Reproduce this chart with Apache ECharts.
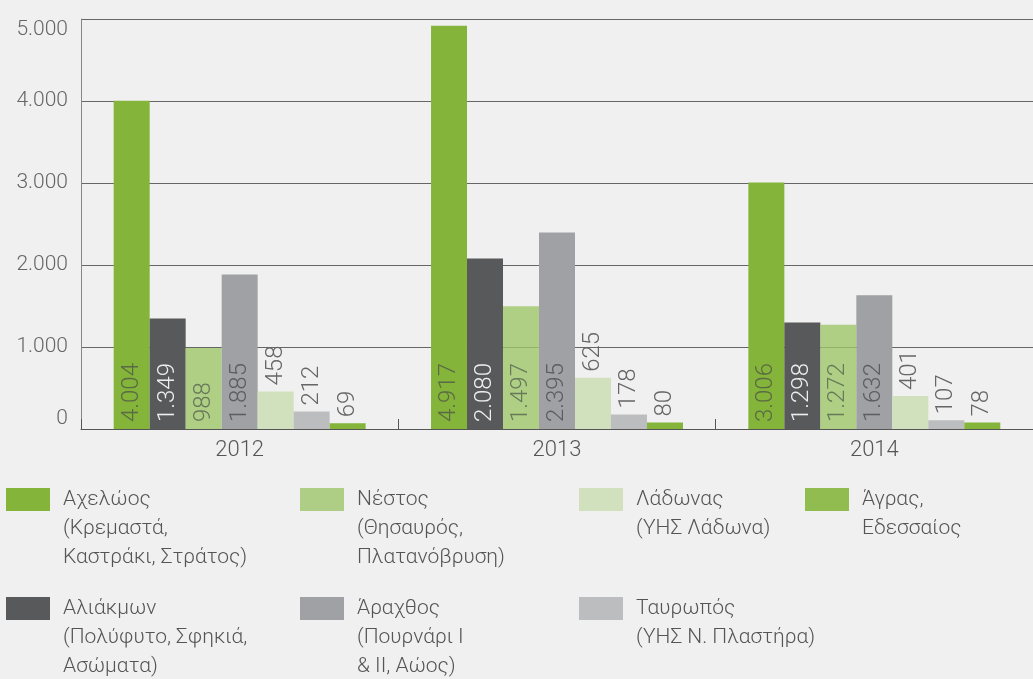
<!DOCTYPE html>
<html><head><meta charset="utf-8">
<script src="https://cdn.jsdelivr.net/npm/echarts@6/dist/echarts.min.js"></script>
<style>html,body{margin:0;padding:0;background:#f0f0f0}#c{width:1033px;height:679px}</style>
</head><body><div id="c"></div>
<script>
const categories = ['2012', '2013', '2014'];
const axelos = [4004, 4917, 3006];
const aliakmon = [1349, 2080, 1298];
const nestos = [988, 1497, 1272];
const arachthos = [1885, 2395, 1632];
const ladonas = [458, 625, 401];
const tavropos = [212, 178, 107];
const agras = [69, 80, 78];
const yMin = 0, yMax = 5000, yStep = 1000;

const seriesNames = ['Αχελώος', 'Αλιάκμων', 'Νέστος', 'Άραχθος', 'Λάδωνας', 'Ταυρωπός', 'Άγρας'];
const legendTexts = [
  'Αχελώος\n(Κρεμαστά,\nΚαστράκι, Στράτος)',
  'Αλιάκμων\n(Πολύφυτο, Σφηκιά,\nΑσώματα)',
  'Νέστος\n(Θησαυρός,\nΠλατανόβρυση)',
  'Άραχθος\n(Πουρνάρι Ι\n& ΙΙ, Αώος)',
  'Λάδωνας\n(ΥΗΣ Λάδωνα)',
  'Ταυρωπός\n(ΥΗΣ Ν. Πλαστήρα)',
  'Άγρας,\nΕδεσσαίος'
];
const seriesData = [axelos, aliakmon, nestos, arachthos, ladonas, tavropos, agras];
const colors = ['#84b53a', '#58595b', '#9dc769', '#a0a1a4', '#d2e1bd', '#bcbdbf', '#84b53a'];
const opac = [1, 1, 0.8, 1, 1, 1, 1];
const legendSwatch = ['#84b53a', '#58595b', '#aece85', '#a0a1a4', '#d2e1bd', '#bcbdbf', '#90bc50'];
const labelColors = ['#5a6a44', '#eeeeee', '#68785a', '#5c5d60', '#666', '#666', '#666'];
const labelInside = [true, true, true, true, false, false, false];
const legendCols = [6, 6, 300, 300, 579, 579, 805];
const legendRows = [499.5, 608.5, 499.5, 608.5, 499.5, 608.5, 499.5];

const FONT = 'Roboto';
const LH = 29;
const fmt = v => String(v).replace(/\B(?=(\d{3})+(?!\d))/g, '.');

const chart = echarts.init(document.getElementById('c'));

const series = seriesNames.map((name, i) => ({
  name: name,
  type: 'bar',
  data: seriesData[i],
  barGap: 0,
  barCategoryGap: '20.6%',
  itemStyle: { color: colors[i], opacity: opac[i] },
  label: {
    show: true,
    position: labelInside[i] ? 'insideBottom' : 'top',
    rotate: 90,
    align: 'left',
    verticalAlign: 'middle',
    distance: labelInside[i] ? 7 : 6,
    fontSize: 24,
    fontFamily: FONT,
    fontWeight: 300,
    color: labelColors[i],
    opacity: 1,
    formatter: p => fmt(p.value)
  }
}));

const legends = seriesNames.map((name, i) => {
  const n = legendTexts[i].split('\n').length;
  const lead = '\n'.repeat(n - 1);
  const H = (2 * n - 1) * LH;
  return {
    show: true,
    left: legendCols[i],
    top: legendRows[i] - H / 2,
    padding: 0,
    orient: 'vertical',
    selectedMode: false,
    itemWidth: 44,
    itemHeight: 23,
    icon: 'rect',
    data: [{ name: name, itemStyle: { color: legendSwatch[i], opacity: 1 } }],
    formatter: () => lead + legendTexts[i],
    textStyle: {
      fontSize: 21,
      fontFamily: FONT,
      fontWeight: 300,
      color: '#555',
      lineHeight: LH,
      padding: [0, 0, 0, 8]
    }
  };
});

chart.setOption({
  backgroundColor: '#f0f0f0',
  animation: false,
  grid: { left: 81, top: 19, width: 960, bottom: 250, containLabel: false },
  legend: legends,
  xAxis: {
    type: 'category',
    data: categories,
    axisLine: { lineStyle: { color: '#555', width: 1 } },
    axisTick: { show: true, inside: true, length: 10, lineStyle: { color: '#555' } },
    axisLabel: { fontSize: 22, fontFamily: FONT, fontWeight: 300, color: '#555', margin: 10 }
  },
  yAxis: {
    type: 'value',
    min: yMin, max: yMax, interval: yStep,
    axisLine: { show: true, lineStyle: { color: '#888' } },
    axisTick: { show: false },
    splitLine: { lineStyle: { color: '#666', width: 1 } },
    axisLabel: {
      fontSize: 21, fontFamily: FONT, fontWeight: 300, color: '#666', margin: 13,
      formatter: v => fmt(v),
      verticalAlignMinLabel: 'bottom',
      verticalAlignMaxLabel: 'top'
    }
  },
  series: series
});
</script></body></html>
